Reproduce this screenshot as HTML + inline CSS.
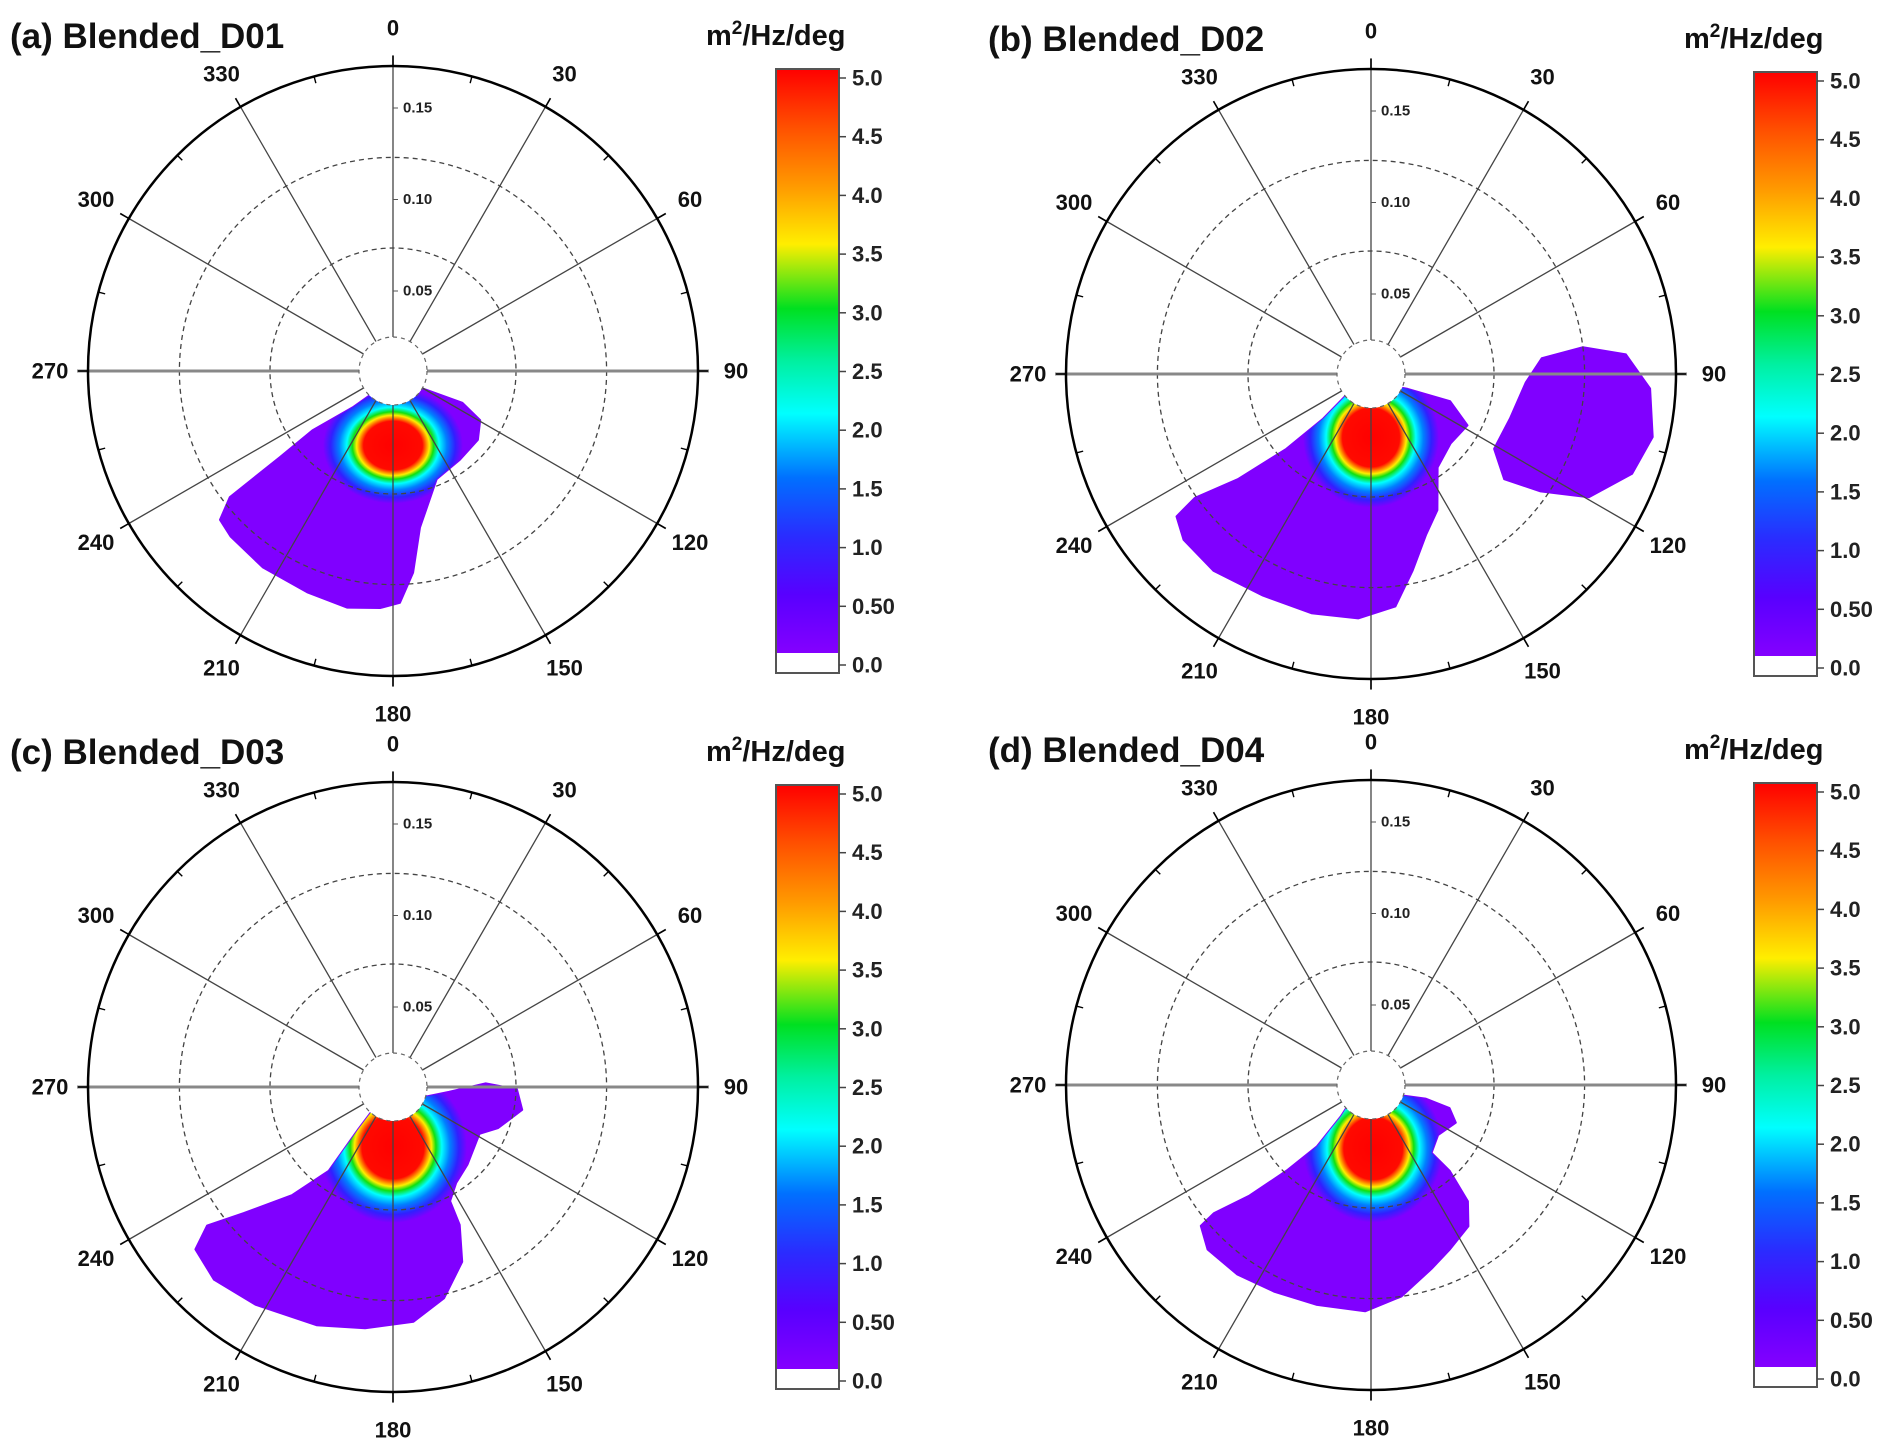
<!DOCTYPE html>
<html><head><meta charset="utf-8"><style>
html,body{margin:0;padding:0;background:#fff;}
svg{display:block;font-family:"Liberation Sans",Arial,sans-serif;}
</style></head><body>
<svg id="fig" width="1899" height="1454" viewBox="0 0 1899 1454" xmlns="http://www.w3.org/2000/svg">
<defs>
<radialGradient id="coreGrad" cx="0.5" cy="0.5" r="0.5">
<stop offset="0" stop-color="#ff0000"/>
<stop offset="0.42" stop-color="#ff0a00"/>
<stop offset="0.47" stop-color="#ff7a00"/>
<stop offset="0.52" stop-color="#ffee00"/>
<stop offset="0.58" stop-color="#10e010"/>
<stop offset="0.66" stop-color="#00ffff"/>
<stop offset="0.77" stop-color="#0080ff"/>
<stop offset="0.89" stop-color="#3020ff"/>
<stop offset="1" stop-color="#8000ff"/>
</radialGradient>
<linearGradient id="cbGrad" x1="0" y1="1" x2="0" y2="0">
<stop offset="0" stop-color="#8400ff"/>
<stop offset="0.1" stop-color="#5800ff"/>
<stop offset="0.2" stop-color="#2a2cff"/>
<stop offset="0.3" stop-color="#0070ff"/>
<stop offset="0.41" stop-color="#00ffff"/>
<stop offset="0.5" stop-color="#00f0a0"/>
<stop offset="0.59" stop-color="#00e020"/>
<stop offset="0.7" stop-color="#ffee00"/>
<stop offset="0.8" stop-color="#ff9900"/>
<stop offset="0.9" stop-color="#ff5000"/>
<stop offset="1" stop-color="#ff0000"/>
</linearGradient>
</defs>
</svg>
<script>
// ---- data (direction deg, frequency Hz) ----
const angleTicks = [0,30,60,90,120,150,180,210,240,270,300,330];
const freqTicks = [0.05,0.10,0.15];
const freqTickLabels = ["0.05","0.10","0.15"];
const gridFreqs = [0.0735,0.123];
const cbTicks = [0,0.5,1.0,1.5,2.0,2.5,3.0,3.5,4.0,4.5,5.0];
const cbTickLabels = ["0.0","0.50","1.0","1.5","2.0","2.5","3.0","3.5","4.0","4.5","5.0"];
const panelTitles = ["(a) Blended_D01","(b) Blended_D02","(c) Blended_D03","(d) Blended_D04"];

const envA = [[162,0.011],[119,0.028],[114.6,0.048],[119.4,0.061],[129,0.066],[143,0.067],[158,0.070],[166,0.083],[170.2,0.093],[174.3,0.117],[178.3,0.133],[183.1,0.136],[191,0.138],[201.2,0.136],[213.6,0.135],[224.5,0.133],[229.3,0.131],[232.3,0.119],[232.7,0.084],[233.6,0.061],[228,0.036],[220,0.020]];
const envB = [[170,0.011],[112,0.028],[109,0.052],[118,0.066],[131,0.064],[144.5,0.069],[154,0.089],[161,0.099],[168,0.116],[174,0.134],[183,0.140],[194,0.141],[206,0.141],[218.7,0.144],[228.5,0.143],[233.8,0.138],[234.9,0.124],[231.7,0.099],[228.5,0.068],[227,0.042],[229.6,0.024]];
const envB2 = [[84.7,0.100],[82.8,0.123],[85.6,0.146],[93,0.159],[102.6,0.164],[110.9,0.159],[119.5,0.143],[124.7,0.119],[128.3,0.099],[121.3,0.085],[107.8,0.086],[93.1,0.091]];
const envC = [[170,0.011],[112,0.022],[95,0.037],[87.8,0.057],[91,0.074],[100,0.078],[111.3,0.068],[118.4,0.060],[136,0.065],[146.6,0.069],[153.4,0.076],[154.2,0.090],[158.4,0.109],[166.4,0.125],[175,0.135],[186.6,0.139],[197.8,0.143],[212.3,0.147],[222.9,0.150],[230.6,0.146],[233.3,0.133],[229.8,0.113],[223,0.087],[217.5,0.064],[219.5,0.036],[222.9,0.019]];
const envD = [[175,0.011],[112,0.020],[104,0.037],[106.3,0.051],[114,0.057],[126.7,0.052],[138.2,0.056],[137.5,0.070],[140.2,0.089],[145.4,0.100],[154.5,0.106],[161.7,0.112],[171.8,0.123],[181.5,0.130],[194,0.130],[205,0.131],[215.2,0.133],[224.8,0.133],[230.4,0.127],[230.8,0.117],[227.7,0.096],[224.6,0.072],[221.4,0.051],[223.9,0.030],[233.7,0.019]];
const peakA = [180,0.047];
const peakB = [180,0.041];
const peakC = [180,0.039];
const peakD = [178,0.041];

// ---- layout (not data) ----
const panels = [
 {ox:0,oy:0,env:[envA],peak:peakA,crx:70,cry:58},
 {ox:978,oy:3,env:[envB,envB2],peak:peakB,crx:68,cry:70},
 {ox:0,oy:716,env:[envC],peak:peakC,crx:74,cry:76},
 {ox:978,oy:714,env:[envD],peak:peakD,crx:70,cry:74}
];
const CX=393, CY=371, R=305, HOLE=34;
function rScale(f){return -11.5+1830*f;}
function polar(dir,r){const a=dir*Math.PI/180;return [CX+Math.sin(a)*r, CY-Math.cos(a)*r];}
const cbX=776, cbW=63, cbTop=69, cbBot=673, cbWhite=20;
function cbY(v){return 665 - v*(665-78)/5;}

const NS="http://www.w3.org/2000/svg";
const svg=document.getElementById('fig');
function mk(tag,attrs,parent){const e=document.createElementNS(NS,tag);for(const k in attrs)e.setAttribute(k,attrs[k]);parent.appendChild(e);return e;}

panels.forEach((p,pi)=>{
  const g=mk('g',{transform:`translate(${p.ox},${p.oy})`},svg);
  
  
  const clipId='clip'+pi;
  const cp=mk('clipPath',{id:clipId},g);
  p.env.forEach((env,ei)=>{
    const d=env.map((pt,i)=>{const xy=polar(pt[0],rScale(pt[1]));return (i?'L':'M')+xy[0].toFixed(1)+','+xy[1].toFixed(1);}).join('')+'Z';
    const path=mk('path',{d:d,fill:'#8000ff',stroke:'#8000ff','stroke-width':2,'stroke-linejoin':'round'},g);
    
    
    mk('path',{d:d},cp);
  });
  const pc=polar(p.peak[0],rScale(p.peak[1]));
  const core=mk('ellipse',{cx:pc[0],cy:pc[1],rx:p.crx,ry:p.cry,fill:'url(#coreGrad)','clip-path':`url(#${clipId})`},g);
  
  
  gridFreqs.forEach(f=>{
    const c=mk('circle',{cx:CX,cy:CY,r:rScale(f),fill:'none',stroke:'#444','stroke-width':1.3,'stroke-dasharray':'5,4'},g);
    
    
  });
  angleTicks.forEach(a=>{
    const horiz=(a===90||a===270);
    const vert=(a===0||a===180);
    const p1=polar(a,HOLE), p2=polar(a,R+((horiz||vert)?11:0));
    const l=mk('line',{x1:p1[0],y1:p1[1],x2:p2[0],y2:p2[1],stroke:horiz?'#888':'#444','stroke-width':horiz?3:1.3},g);
    
    
    const t1=polar(a,R), t2=polar(a,R+10);
    mk('line',{x1:t1[0],y1:t1[1],x2:t2[0],y2:t2[1],stroke:'#000','stroke-width':1.6},g);
    const m1=polar(a+15,R), m2=polar(a+15,R-7);
    mk('line',{x1:m1[0],y1:m1[1],x2:m2[0],y2:m2[1],stroke:'#000','stroke-width':1.4},g);
    const lp=polar(a,343);
    const t=mk('text',{x:lp[0],y:lp[1],'text-anchor':'middle','dominant-baseline':'central','font-size':22,'font-weight':'bold',fill:'#111'},g);
    t.textContent=a;
    
    
  });
  mk('circle',{cx:CX,cy:CY,r:HOLE,fill:'#fff',stroke:'#666','stroke-width':1.2,'stroke-dasharray':'4,4'},g);
  const oc=mk('circle',{cx:CX,cy:CY,r:R,fill:'none',stroke:'#000','stroke-width':2.5},g);
  
  
  freqTicks.forEach((f,i)=>{
    const y=CY-rScale(f);
    mk('line',{x1:CX,y1:y,x2:CX+5,y2:y,stroke:'#555','stroke-width':1},g);
    const t=mk('text',{x:CX+10,y:y,'dominant-baseline':'central','font-size':15,'font-weight':'bold',fill:'#222'},g);
    t.textContent=freqTickLabels[i];
    
    
  });
  const ti=mk('text',{x:10,y:48,'font-size':35,'font-weight':'bold',fill:'#111'},g);
  ti.textContent=panelTitles[pi];
  
  
  const ul=mk('text',{x:706,y:45,'font-size':29,'font-weight':'bold',fill:'#111'},g);
  ul.innerHTML='m<tspan dy="-11" font-size="19">2</tspan><tspan dy="11">/Hz/deg</tspan>';
  
  
  const cb=mk('rect',{x:cbX,y:cbTop,width:cbW,height:cbBot-cbWhite-cbTop,fill:'url(#cbGrad)'},g);
  
  
  mk('rect',{x:cbX,y:cbBot-cbWhite,width:cbW,height:cbWhite,fill:'#fff'},g);
  mk('rect',{x:cbX,y:cbTop,width:cbW,height:cbBot-cbTop,fill:'none',stroke:'#555','stroke-width':2},g);
  cbTicks.forEach((v,i)=>{
    const y=cbY(v);
    mk('line',{x1:cbX+cbW,y1:y,x2:cbX+cbW+7,y2:y,stroke:'#444','stroke-width':1.5},g);
    const t=mk('text',{x:cbX+cbW+13,y:y,'dominant-baseline':'central','font-size':22,'font-weight':'bold',fill:'#222'},g);
    t.textContent=cbTickLabels[i];
    
    
  });
});
</script>
</body></html>
